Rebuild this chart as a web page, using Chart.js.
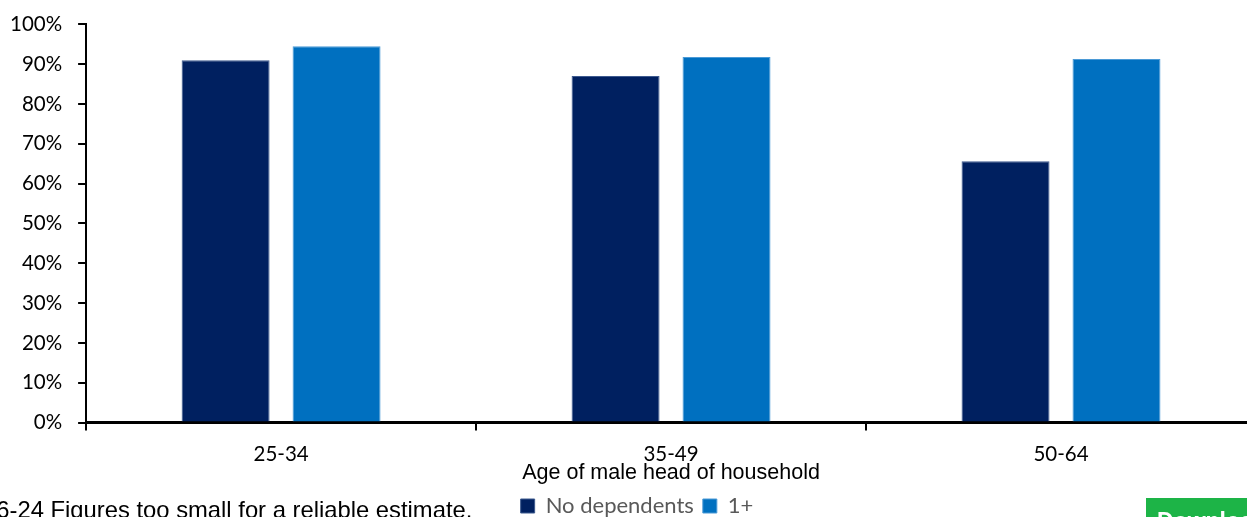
<!DOCTYPE html>
<html>
<head>
<meta charset="utf-8">
<script src="https://cdn.jsdelivr.net/npm/chart.js@4.4.0/dist/chart.umd.min.js"></script>
<style>
  html, body { margin: 0; padding: 0; background: #fff; overflow: hidden; width: 1247px; height: 517px; }
  #wrap { position: absolute; left: 0; top: -4px; width: 1290px; height: 531px; }
  #note { position: absolute; left: -17px; top: 496px; font-family: "Liberation Sans", Arial, sans-serif; font-size: 23.8px; color: #000; white-space: nowrap; }
  #dl { position: absolute; left: 1146px; top: 498px; width: 120px; height: 40px; background: #1db447; color: #fff;
        font-family: "Liberation Sans", Arial, sans-serif; font-weight: bold; font-size: 23px; padding: 10px 0 0 11px; box-sizing: border-box; }
</style>
</head>
<body>
<div id="wrap"><canvas id="chart"></canvas></div>
<div id="note">16-24 Figures too small for a reliable estimate.</div>
<div id="dl">Download</div>
<script>
// Categorias e séries
const categorias = ['25-34', '35-49', '50-64'];
const semDependentes = [91.0, 87.0, 65.6];
const umOuMais = [94.5, 91.8, 91.3];
const ticksY = [0, 10, 20, 30, 40, 50, 60, 70, 80, 90, 100];

const fonte = '"Lato", "Open Sans", sans-serif';

// Desloca a legenda para a direita (no original ela não fica centrada)
const deslocaLegenda = {
    id: 'deslocaLegenda',
    afterLayout(chart) {
        chart.legend.left += 12;
        chart.legend.right += 12;
    }
};

const ctx = document.getElementById('chart').getContext('2d');
new Chart(ctx, {
    type: 'bar',
    data: {
        labels: categorias,
        datasets: [
            { label: 'No dependents', data: semDependentes, backgroundColor: '#002060', borderColor: '#3d5a8f', borderWidth: 1 },
            { label: '1+', data: umOuMais, backgroundColor: '#0070C0', borderColor: '#4b9ad6', borderWidth: 1 }
        ]
    },
    plugins: [deslocaLegenda],
    options: {
        responsive: true,
        maintainAspectRatio: false,
        animation: false,
        layout: { padding: { top: 10, right: 34, left: -6, bottom: 0 } },
        datasets: { bar: { categoryPercentage: 0.569, barPercentage: 0.793 } },
        plugins: {
            tooltip: { enabled: false },
            legend: {
                position: 'bottom',
                labels: { boxWidth: 14, boxHeight: 14, color: '#595959', font: { family: fonte, size: 22 }, padding: 9 }
            }
        },
        scales: {
            x: {
                grid: { display: true, drawOnChartArea: false, drawTicks: true, tickLength: 8, color: '#000', lineWidth: 2, offset: true },
                border: { color: '#000', width: 3 },
                ticks: { color: '#000', font: { family: fonte, size: 20.5 }, padding: 11 },
                title: { display: true, text: 'Age of male head of household', color: '#000',
                         font: { family: '"Liberation Sans", Arial, sans-serif', size: 21.5 }, padding: { top: -17, bottom: 0 } }
            },
            y: {
                min: 0, max: 100,
                afterBuildTicks: axis => { axis.ticks = ticksY.map(v => ({ value: v })); },
                grid: { display: true, drawOnChartArea: false, drawTicks: true, tickLength: 8, color: '#000', lineWidth: 2 },
                border: { color: '#000', width: 2 },
                ticks: { color: '#000', font: { family: fonte, size: 20.5 }, padding: 16, callback: v => v + '%' }
            }
        }
    }
});
</script>
</body>
</html>
